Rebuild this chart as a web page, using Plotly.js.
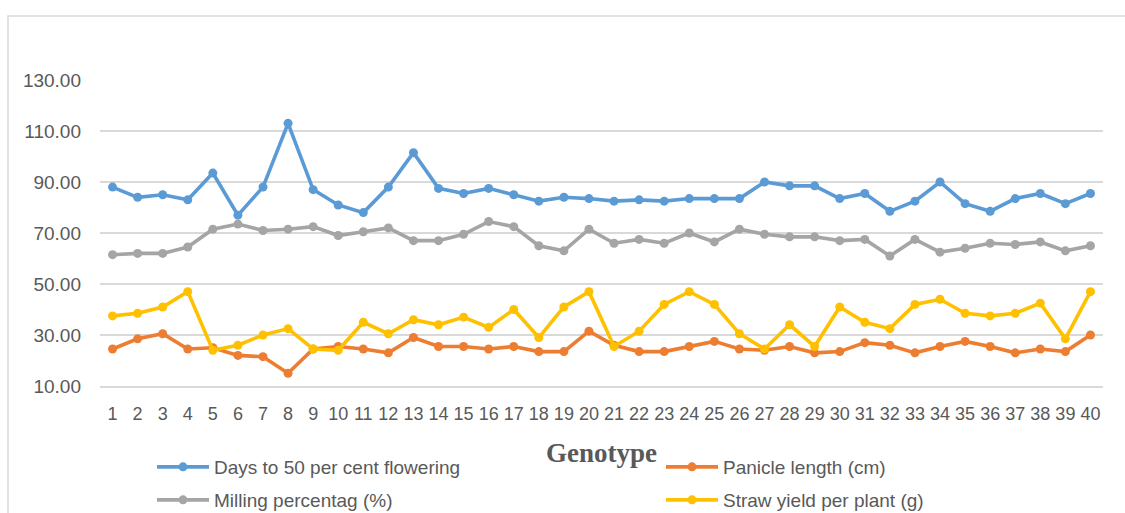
<!DOCTYPE html>
<html>
<head>
<meta charset="utf-8">
<script src="https://cdn.plot.ly/plotly-3.0.1.min.js"></script>
<style>
html,body{margin:0;padding:0;background:#fff;}
#chart{width:1125px;height:513px;}
</style>
</head>
<body>
<div id="chart"></div>
<script>
// ---- data ----
var genotypes = ['1','2','3','4','5','6','7','8','9','10','11','12','13','14','15','16','17','18','19','20',
                 '21','22','23','24','25','26','27','28','29','30','31','32','33','34','35','36','37','38','39','40'];

var daysTo50Flowering = [88,84,85,83,93.5,77,88,113,87,81,
                         78,88,101.5,87.5,85.5,87.5,85,82.5,84,83.5,
                         82.5,83,82.5,83.5,83.5,83.5,90,88.5,88.5,83.5,
                         85.5,78.5,82.5,90,81.5,78.5,83.5,85.5,81.5,85.5];

var panicleLength = [24.5,28.5,30.5,24.5,25,22,21.5,15,24.5,25.5,
                     24.5,23,29,25.5,25.5,24.5,25.5,23.5,23.5,31.5,
                     26,23.5,23.5,25.5,27.5,24.5,24,25.5,23,23.5,
                     27,26,23,25.5,27.5,25.5,23,24.5,23.5,30];

var millingPct = [61.5,62,62,64.5,71.5,73.5,71,71.5,72.5,69,
                  70.5,72,67,67,69.5,74.5,72.5,65,63,71.5,
                  66,67.5,66,70,66.5,71.5,69.5,68.5,68.5,67,
                  67.5,61,67.5,62.5,64,66,65.5,66.5,63,65];

var strawYield = [37.5,38.5,41,47,24,26,30,32.5,24.5,24,
                  35,30.5,36,34,37,33,40,29,41,47,
                  25.5,31.5,42,47,42,30.5,24.5,34,25.5,41,
                  35,32.5,42,44,38.5,37.5,38.5,42.5,28.5,47];

var seriesNames = ['Days to 50 per cent flowering','Panicle length (cm)','Milling percentag (%)','Straw yield per plant (g)'];
var seriesColors = ['#5B9BD5','#ED7D31','#A5A5A5','#FFC000'];

// ---- layout geometry (pixels) ----
var W = 1125, H = 513;
var mL = 100, mR = 22, mT = 80, mB = 127;
var plotW = W - mL - mR, plotH = H - mT - mB;
function px2x(px){ return (px - mL) / plotW; }
function px2y(py){ return (H - mB - py) / plotH; }

function mk(name, y, color, legend){
  return {
    type:'scatter', mode:'lines+markers', name:name,
    x:genotypes, y:y,
    line:{color:color, width:3.6},
    marker:{color:color, size:9, symbol:'circle'},
    cliponaxis:false,
    legend:legend
  };
}

var data = [
  mk(seriesNames[0], daysTo50Flowering, seriesColors[0], 'legend'),
  mk(seriesNames[1], panicleLength, seriesColors[1], 'legend2'),
  mk(seriesNames[2], millingPct, seriesColors[2], 'legend3'),
  mk(seriesNames[3], strawYield, seriesColors[3], 'legend4')
];

var tickFont = {family:'"Liberation Sans", Arial, sans-serif', size:18, color:'#595959'};
var legFont = {family:'"Liberation Sans", Arial, sans-serif', size:19, color:'#595959'};

function leg(xpx, ypx){
  return {
    orientation:'h', x:px2x(xpx), xanchor:'left', y:px2y(ypx), yanchor:'middle',
    itemwidth:52, font:legFont, bgcolor:'rgba(0,0,0,0)', borderwidth:0
  };
}

var layout = {
  width:W, height:H,
  margin:{l:mL, r:mR, t:mT, b:mB, autoexpand:false},
  paper_bgcolor:'#ffffff', plot_bgcolor:'#ffffff',
  showlegend:true,
  xaxis:{
    type:'category',
    range:[-0.5, genotypes.length - 0.5],
    tickfont:tickFont,
    showgrid:false,
    showline:true, linecolor:'#D9D9D9', linewidth:1.5,
    ticks:'', ticklabelstandoff:11,
    zeroline:false,
    fixedrange:true,
    title:{text:'Genotype', standoff:20,
           font:{family:'"Liberation Serif", "Times New Roman", serif', size:27, color:'#595959', weight:'bold'}}
  },
  yaxis:{
    range:[10,130], tick0:10, dtick:20, tickformat:'.2f',
    tickfont:{family:'"Liberation Sans", Arial, sans-serif', size:19, color:'#595959'},
    showgrid:true, gridcolor:'#D9D9D9', gridwidth:1.5,
    zeroline:false, showline:false,
    ticks:'', ticklabelstandoff:18,
    fixedrange:true
  },
  legend: leg(152, 467),
  legend2: leg(661, 467),
  legend3: leg(152, 500),
  legend4: leg(661, 500),
  shapes:[{
    type:'rect', xref:'paper', yref:'paper', layer:'below',
    x0:px2x(8), x1:px2x(1140), y0:px2y(530), y1:px2y(16),
    line:{color:'#D9D9D9', width:1.5}, fillcolor:'rgba(0,0,0,0)'
  }]
};

Plotly.newPlot('chart', data, layout, {displayModeBar:false, staticPlot:true});
</script>
</body>
</html>
